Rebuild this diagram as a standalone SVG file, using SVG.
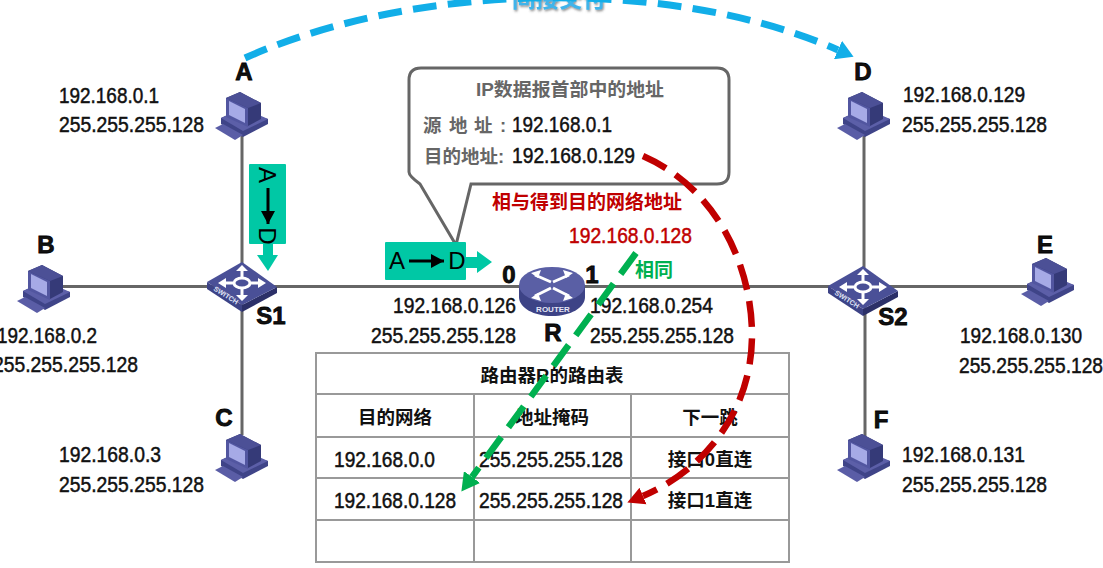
<svg xmlns="http://www.w3.org/2000/svg" width="1103" height="568" viewBox="0 0 1103 568">
<style>
text{font-family:"Liberation Sans","Noto Sans CJK SC",sans-serif;fill:#111}
.ip{font-size:22.500px;stroke:#111;stroke-width:.5px}
.lb{font-size:24px;font-weight:700;text-anchor:middle;stroke:#000;stroke-width:.8px}
.cj{font-size:18.500px;font-weight:700}
.gy{fill:#666}
.net{stroke:#666;stroke-width:3;fill:none}
.grid{stroke:#999;stroke-width:2;fill:none}
.sw{stroke:#fff;stroke-width:3;fill:none}
.flow{fill:none}
</style>
<defs>
<g id="pc">
<polygon points="6,27 23,19 53,28 53,33 28,46 6,33" fill="#3f4488"/>
<polygon points="6,27 28,40 53,28 28,17" fill="#5c5fa8"/>
<polygon points="0,37 8,33 28,44 20,49" fill="#5a5da6"/>
<polygon points="11,7 25,1 46,12 46,28 33,35 11,25" fill="#353a78"/>
<polygon points="11,7 25,1 46,12 33,17" fill="#4c5096"/>
<polygon points="11,7 33,17 33,36 11,26" fill="#5256a0"/>
<polygon points="14,10 30,18 30,32 14,24" fill="#a6aae6"/>
</g>
<g id="switch">
<polygon points="0,20 35,43 35,50 0,27" fill="#3d4386"/>
<polygon points="35,43 70,25 70,31 35,50" fill="#2c3068"/>
<polygon points="0,20 35,0 70,25 35,43" fill="#4a5097"/>
<ellipse cx="35" cy="21" rx="8" ry="5" class="sw"/>
<path class="sw" d="M35 15V8M35 27V35M26 21H16M44 21H54"/>
<path d="M35 3l6 6h-12zM35 39l6-6h-12zM11 21l8-5v10zM59 21l-8-5v10z" fill="#fff"/>
<text transform="translate(6 28) rotate(32)" style="font-size:7px;font-weight:700;fill:#dfe1f5">SWITCH</text>
</g>
<marker id="hb" markerUnits="userSpaceOnUse" markerWidth="18" markerHeight="20" refX="0" refY="10" orient="auto"><path d="M0 0L17 10L0 20z" fill="#12aee8"/></marker>
<marker id="hr" markerUnits="userSpaceOnUse" markerWidth="18" markerHeight="20" refX="0" refY="10" orient="auto"><path d="M0 1L17 10L0 19z" fill="#c00000"/></marker>
<marker id="hg" markerUnits="userSpaceOnUse" markerWidth="20" markerHeight="20" refX="0" refY="10" orient="auto"><path d="M0 0L18 10L0 20z" fill="#00b050"/></marker>
<marker id="hk" markerUnits="userSpaceOnUse" markerWidth="14" markerHeight="16" refX="13" refY="8" orient="auto"><path d="M0 1L13 8L0 15z" fill="#000"/></marker>
<filter id="soft" x="-10%" y="-30%" width="120%" height="170%"><feDropShadow dx="1" dy="1.500" stdDeviation="1" flood-color="#555" flood-opacity=".7"/></filter>
</defs>
<rect width="1103" height="568" fill="#fff"/>
<g id="links">
<path class="net" d="M242 130V435M60 286.500H1030M864 130V287M865 287V437"/>
</g>
<g id="node-A"><use href="#pc" x="215" y="91"/><text class="lb" x="244" y="80">A</text><text class="ip" x="59" y="103" textLength="100" lengthAdjust="spacingAndGlyphs">192.168.0.1</text><text class="ip" x="59" y="132" textLength="145" lengthAdjust="spacingAndGlyphs">255.255.255.128</text></g>
<g id="node-B"><use href="#pc" x="17" y="264"/><text class="lb" x="46" y="253">B</text><text class="ip" x="-3" y="343" textLength="100" lengthAdjust="spacingAndGlyphs">192.168.0.2</text><text class="ip" x="-7" y="372" textLength="145" lengthAdjust="spacingAndGlyphs">255.255.255.128</text></g>
<g id="node-C"><use href="#pc" x="215" y="433"/><text class="lb" x="224" y="426">C</text><text class="ip" x="59" y="462" textLength="102" lengthAdjust="spacingAndGlyphs">192.168.0.3</text><text class="ip" x="59" y="492" textLength="145" lengthAdjust="spacingAndGlyphs">255.255.255.128</text></g>
<g id="node-D"><use href="#pc" x="837" y="91"/><text class="lb" x="863" y="80">D</text><text class="ip" x="903" y="102" textLength="122" lengthAdjust="spacingAndGlyphs">192.168.0.129</text><text class="ip" x="902" y="132" textLength="145" lengthAdjust="spacingAndGlyphs">255.255.255.128</text></g>
<g id="node-E"><use href="#pc" x="1021" y="257"/><text class="lb" x="1045" y="253">E</text><text class="ip" x="960" y="343" textLength="122" lengthAdjust="spacingAndGlyphs">192.168.0.130</text><text class="ip" x="959" y="373" textLength="144" lengthAdjust="spacingAndGlyphs">255.255.255.128</text></g>
<g id="node-F"><use href="#pc" x="837" y="433"/><text class="lb" x="881" y="428">F</text><text class="ip" x="902" y="462" textLength="123" lengthAdjust="spacingAndGlyphs">192.168.0.131</text><text class="ip" x="902" y="492" textLength="145" lengthAdjust="spacingAndGlyphs">255.255.255.128</text></g>
<g id="node-S1"><use href="#switch" x="207" y="262"/><text class="lb" x="271" y="324">S1</text></g>
<g id="node-S2"><use href="#switch" x="828" y="266"/><text class="lb" x="893" y="325">S2</text></g>
<g id="node-R">
<path d="M519 285V297C519 308 534 316 552 316S585 308 585 297V285z" fill="#3d4386"/>
<ellipse cx="552" cy="285" rx="33" ry="18" fill="#5a5fa5"/>
<path class="sw" d="M535 275L551 282M569 275L553 282M535 296L551 288M569 296L553 288"/>
<path d="M531 273l10-3-3 8zM573 273l-10-3 3 8zM531 298l10 3-3-8zM573 298l-10 3 3-8z" fill="#fff"/>
<text x="553" y="312" text-anchor="middle" style="font-size:8px;font-weight:700;fill:#e5e6f5">ROUTER</text>
<text class="lb" x="509" y="283">0</text><text class="lb" x="592" y="283">1</text><text class="lb" x="553" y="341">R</text>
<text class="ip" x="393" y="313" textLength="123" lengthAdjust="spacingAndGlyphs">192.168.0.126</text><text class="ip" x="371" y="343" textLength="145" lengthAdjust="spacingAndGlyphs">255.255.255.128</text>
<text class="ip" x="590" y="313" textLength="123" lengthAdjust="spacingAndGlyphs">192.168.0.254</text><text class="ip" x="590" y="343" textLength="144" lengthAdjust="spacingAndGlyphs">255.255.255.128</text>
</g>
<g id="packet-S1">
<rect x="249" y="164" width="37" height="80" rx="1" fill="#00c8a5"/>
<path d="M263 244H273V255H278L268 271L257 255H263z" fill="#00c8a5"/>
<path d="M268 188V224" stroke="#000" stroke-width="3" marker-end="url(#hk)"/>
<text transform="translate(259 175) rotate(90)" text-anchor="middle" style="font-size:24px;fill:#000">A</text>
<text transform="translate(259 236) rotate(90)" text-anchor="middle" style="font-size:24px;fill:#000">D</text>
</g>
<g id="callout">
<path d="M421 68H717Q729 68 729 80V172Q729 184 717 184H471L456 245L420 184Q409 176 409 172V80Q409 68 421 68z" fill="#fff" stroke="#666" stroke-width="3"/>
<text class="cj gy" x="476" y="96" textLength="188" lengthAdjust="spacingAndGlyphs">IP数据报首部中的地址</text>
<text class="cj gy" x="423" y="132">源</text><text class="cj gy" x="449" y="132">地</text><text class="cj gy" x="474" y="132">址</text><text class="cj gy" x="500" y="132">:</text>
<text class="cj gy" x="424" y="163">目的地址:</text>
<text class="ip" x="512" y="132" textLength="100" lengthAdjust="spacingAndGlyphs">192.168.0.1</text>
<text class="ip" x="512" y="163" textLength="123" lengthAdjust="spacingAndGlyphs">192.168.0.129</text>
</g>
<g id="packet-R">
<rect x="385" y="242" width="81" height="38" rx="1" fill="#00c8a5"/>
<path d="M466 257H477V251L492 262L477 273V268H466z" fill="#00c8a5"/>
<path d="M409 261H444" stroke="#000" stroke-width="3" marker-end="url(#hk)"/>
<text x="397" y="269" text-anchor="middle" style="font-size:24px;fill:#000">A</text>
<text x="457" y="269" text-anchor="middle" style="font-size:24px;fill:#000">D</text>
</g>
<g id="notes">
<text x="492" y="209" textLength="190" lengthAdjust="spacingAndGlyphs" style="font-size:19px;font-weight:700;fill:#c00000">相与得到目的网络地址</text>
<text class="ip" x="569" y="243" textLength="123" lengthAdjust="spacingAndGlyphs" style="fill:#c00000;stroke:#c00000">192.168.0.128</text>
<text x="635" y="277" style="font-size:19px;font-weight:700;fill:#00b050">相同</text>
<text x="559" y="7" text-anchor="middle" filter="url(#soft)" style="font-size:23.500px;font-weight:700;fill:#3fb4ea">间接交付</text>
</g>
<g id="route-table">
<rect class="grid" x="316" y="353" width="473" height="209"/>
<path class="grid" d="M316 394H789M316 437H789M316 478H789M316 520H789M474 394V562M631 394V562"/>
<text class="cj" x="552" y="382" text-anchor="middle">路由器R的路由表</text>
<text class="cj" x="395" y="424" text-anchor="middle">目的网络</text>
<text class="cj" x="552" y="424" text-anchor="middle">地址掩码</text>
<text class="cj" x="710" y="424" text-anchor="middle">下一跳</text>
<text class="ip" x="334" y="467" textLength="101" lengthAdjust="spacingAndGlyphs">192.168.0.0</text>
<text class="ip" x="479" y="467" textLength="144" lengthAdjust="spacingAndGlyphs">255.255.255.128</text>
<text class="cj" x="710" y="466" text-anchor="middle">接口0直连</text>
<text class="ip" x="334" y="508" textLength="122" lengthAdjust="spacingAndGlyphs">192.168.0.128</text>
<text class="ip" x="479" y="508" textLength="144" lengthAdjust="spacingAndGlyphs">255.255.255.128</text>
<text class="cj" x="710" y="507" text-anchor="middle">接口1直连</text>
</g>
<g id="connectors">
<path class="flow" pathLength="641" d="M245 58C420 -20 675 -22 838 50" stroke="#12aee8" stroke-width="7" stroke-dasharray="25 12" marker-end="url(#hb)"/>
<path class="flow" pathLength="445" d="M643 156C720 190 752 270 752 335C752 415 700 472 643 496" stroke="#c00000" stroke-width="6.500" stroke-dasharray="27 12" marker-end="url(#hr)"/>
<path class="flow" d="M636 253L472 477" stroke="#00b050" stroke-width="6.500" stroke-dasharray="26 12" marker-end="url(#hg)"/>
</g>
</svg>
